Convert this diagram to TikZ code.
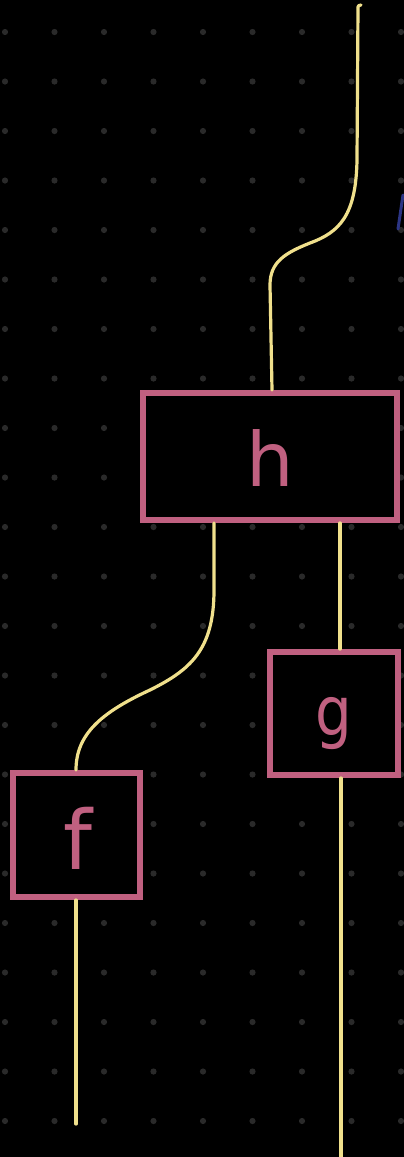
\documentclass[tikz,border=0pt]{standalone}
\usepackage{fontspec}
\newfontfamily\hand{DejaVu Sans}
\definecolor{boxpink}{HTML}{C06080}
\definecolor{wireyellow}{HTML}{F0E08C}
\definecolor{griddot}{HTML}{2A2A2A}
\definecolor{inkblue}{HTML}{2C3585}
\tikzset{
  morph/.style={draw=boxpink, line width=6pt, rectangle, fill=black, inner sep=0pt},
  glyph/.style={text=boxpink, inner sep=0pt, font=\hand\fontsize{75}{75}\selectfont},
  wire/.style={draw=wireyellow, line width=3.2pt, line cap=round, line join=round},
}
\begin{document}
\begin{tikzpicture}[x=1pt, y=-1pt]
  % canvas
  \fill[black] (0,0) rectangle (404,1157);
  \useasboundingbox (0,0) rectangle (404,1157);
  % dotted grid
  \foreach \i in {0,...,8} {
    \foreach \j in {0,...,22} {
      \fill[griddot] ({5+49.5*\i},{32+49.5*\j}) circle (3.1);
    }
  }
  % morphism boxes
  \node[morph, minimum width=254pt, minimum height=127pt] (h) at (270,456.5) {};
  \node[morph, minimum width=128pt, minimum height=123pt] (g) at (334,713.5) {};
  \node[morph, minimum width=127pt, minimum height=124pt] (f) at (76.5,835) {};
  % box labels
  \node[glyph] (hname) at ([yshift=-1.5pt]h.center) {h};
  \node[glyph, font=\hand\fontsize{68}{68}\selectfont] (gname) at ([yshift=-10pt]g.center)
    {\scalebox{0.85}[1]{g}};
  \node[glyph, font=\hand\fontsize{82}{82}\selectfont] (fname) at ([xshift=1.5pt,yshift=-3pt]f.center) {f};
  % free wire ends
  \coordinate (top) at (358,7);
  \coordinate (gbot) at (341,1160);
  \coordinate (fbot) at (76,1124);
  % wires
  \draw[wire] (361,5) .. controls (359,5) and (358,6) .. (top)
    -- (357,160) .. controls (356,215) and (340,232) .. (310,243)
    .. controls (285,253) and (270,262) .. (270,285)
    -- (272,0 |- h.north);
  \draw[wire] (214,0 |- h.south) -- (214,590)
    .. controls (214,650) and (190,670) .. (150,690)
    .. controls (100,713) and (76,735) .. (76,770)
    -- (76,0 |- f.north);
  \draw[wire] (340,0 |- h.south) -- (340,0 |- g.north);
  \draw[wire] (341,0 |- g.south) -- (gbot);
  \draw[wire] (76,0 |- f.south) -- (fbot);
  % stray pen mark at the edge
  \draw[inkblue, line width=3pt, line cap=round] (403,195) -- (398,229);
\end{tikzpicture}
\end{document}
